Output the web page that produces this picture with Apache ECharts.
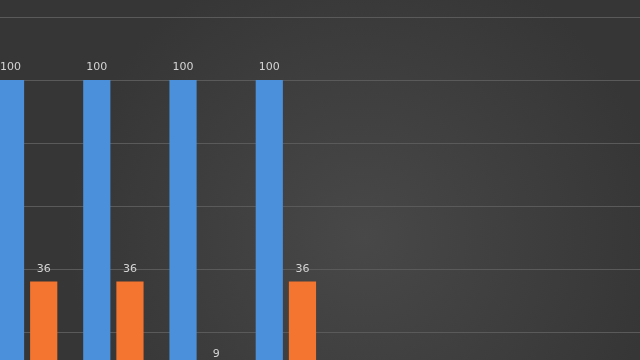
<!DOCTYPE html>
<html>
<head>
<meta charset="utf-8">
<script src="https://cdn.jsdelivr.net/npm/echarts@6/dist/echarts.min.js"></script>
<style>
html,body{margin:0;padding:0;background:#3b3b3b;width:640px;height:360px;overflow:hidden;position:relative;}
#c{position:absolute;left:-16.5px;top:0;width:690px;height:395px;}
</style>
</head>
<body>
<div id="c"></div>
<script>
var categories = ['1', '2', '3', '4', '5', '6', '7', '8'];
var seriesA = [100, 100, 100, 100, null, null, null, null];
var seriesB = [36, 36, 9, 36, null, null, null, null];
var yMin = 0, yMax = 120, yInterval = 20;

var chart = echarts.init(document.getElementById('c'));
chart.setOption({
  animation: false,
  backgroundColor: {
    type: 'radial', x: 0.55, y: 0.6, r: 0.75,
    colorStops: [{offset: 0, color: '#484848'}, {offset: 1, color: '#363636'}]
  },
  grid: {left: 0, right: 0, top: 17, bottom: 0},
  xAxis: {
    type: 'category', data: categories,
    axisLine: {show: false}, axisTick: {show: false}, axisLabel: {show: false}
  },
  yAxis: {
    type: 'value', min: yMin, max: yMax, interval: yInterval,
    axisLine: {show: false}, axisTick: {show: false}, axisLabel: {show: false},
    splitLine: {lineStyle: {color: '#5a5a5a', width: 1}}
  },
  series: [
    {type: 'bar', data: seriesA, barGap: '22%', barCategoryGap: '30%',
     itemStyle: {color: '#4a90da'},
     label: {show: true, position: 'top', color: '#d4d4d4', fontSize: 11, fontFamily: 'DejaVu Sans', distance: 7}},
    {type: 'bar', data: seriesB,
     itemStyle: {color: '#f47530'},
     label: {show: true, position: 'top', color: '#d4d4d4', fontSize: 11, fontFamily: 'DejaVu Sans', distance: 7}}
  ]
});
</script>
</body>
</html>
